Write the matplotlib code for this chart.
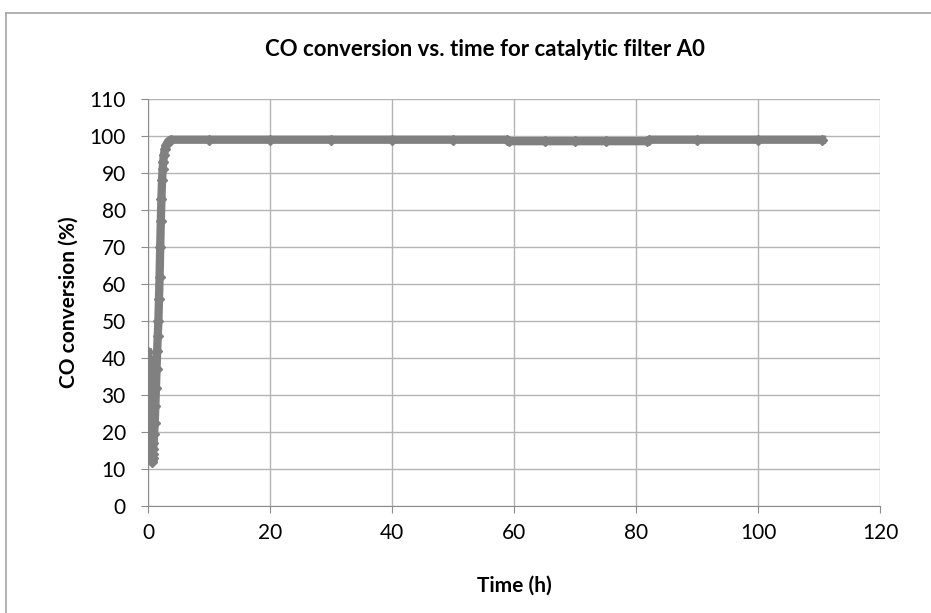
import matplotlib.pyplot as plt
from matplotlib.lines import Line2D

# CO conversion of catalytic filter A0 over time
time_h = [0.00, 0.04, 0.08, 0.12, 0.16, 0.20, 0.24, 0.28, 0.32, 0.36,
          0.40, 0.45, 0.50, 0.55, 0.60, 0.65, 0.70, 0.75, 0.80, 0.85,
          0.90, 1.00, 1.10, 1.20, 1.30, 1.40, 1.50, 1.60, 1.70, 1.80,
          1.90, 2.00, 2.10, 2.20, 2.30, 2.40, 2.50, 2.60, 2.80, 3.00,
          3.30, 3.70, 10.0, 20.0, 30.0, 40.0, 50.0, 58.8, 59.2, 65.0,
          70.0, 75.0, 81.8, 82.2, 90.0, 100.0, 110.5]
conversion = [41.5, 38.0, 35.5, 40.0, 31.0, 27.5, 33.5, 24.0, 21.0, 26.0,
              18.5, 16.5, 20.0, 14.5, 13.0, 12.0, 12.5, 13.0, 14.0, 15.5,
              17.0, 19.5, 22.5, 27.0, 32.0, 37.0, 42.0, 46.0, 50.0, 56.0,
              62.0, 70.0, 77.0, 83.0, 88.0, 91.0, 93.0, 95.0, 96.5, 97.5,
              98.5, 99.0, 99.0, 99.0, 99.0, 99.0, 99.0, 99.0, 98.6, 98.6,
              98.6, 98.6, 98.6, 99.0, 99.0, 99.0, 99.0]

x_ticks = [0, 20, 40, 60, 80, 100, 120]
y_ticks = [0, 10, 20, 30, 40, 50, 60, 70, 80, 90, 100, 110]

plt.rcParams['font.family'] = ['Lato', 'DejaVu Sans']

fig = plt.figure(figsize=(9.31, 6.13), dpi=100)
ax = fig.add_axes([148 / 931, 1 - 506 / 613, 732 / 931, 407 / 613])

ax.plot(time_h, conversion, color='#808080', lw=6, marker='D', ms=5,
        mec='#808080', mfc='#808080', solid_joinstyle='round', zorder=3)

ax.set_xlim(0, 120)
ax.set_ylim(0, 110)
ax.set_xticks(x_ticks)
ax.set_yticks(y_ticks)
ax.grid(True, color='#b4b4b4', lw=1)
ax.set_axisbelow(True)
for side in ['top', 'right']:
    ax.spines[side].set_visible(False)
for side in ['left', 'bottom']:
    ax.spines[side].set_color('#8c8c8c')
ax.tick_params(axis='both', colors='#8c8c8c', labelcolor='black',
               labelsize=15, length=5, direction='out')
ax.tick_params(axis='y', pad=11)
ax.tick_params(axis='x', pad=7)

ax.set_xlabel('Time (h)', fontsize=15, fontweight='bold', labelpad=24)
ax.set_ylabel('CO conversion (%)', fontsize=15, fontweight='bold', labelpad=8)

fig.text(485 / 931, 1 - 50 / 613, 'CO conversion vs. time for catalytic filter A0',
         ha='center', va='center', fontsize=16, fontweight='bold')

# chart area border, only left and top edges fall inside the image
bx, by = 6 / 931, 1 - 13 / 613
fig.add_artist(Line2D([bx, bx], [0, by], transform=fig.transFigure,
                      color='#a6a6a6', lw=1.2))
fig.add_artist(Line2D([bx, 1], [by, by], transform=fig.transFigure,
                      color='#a6a6a6', lw=1.2))

fig.savefig('out.png', dpi=100)
